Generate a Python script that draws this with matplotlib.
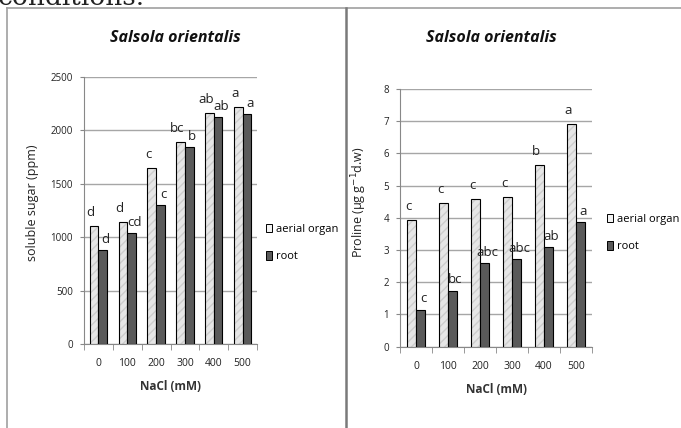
import matplotlib.pyplot as plt
import numpy as np
from matplotlib.lines import Line2D
from matplotlib.patches import Patch

# data
nacl = ["0", "100", "200", "300", "400", "500"]

sugar_aerial = [1105, 1140, 1648, 1894, 2160, 2216]
sugar_root = [880, 1040, 1301, 1841, 2122, 2153]
sugar_aerial_lbl = ["d", "d", "c", "bc", "ab", "a"]
sugar_root_lbl = ["d", "cd", "c", "b", "ab", "a"]

proline_aerial = [3.94, 4.45, 4.58, 4.66, 5.65, 6.91]
proline_root = [1.15, 1.74, 2.60, 2.72, 3.09, 3.86]
proline_aerial_lbl = ["c", "c", "c", "c", "b", "a"]
proline_root_lbl = ["c", "bc", "abc", "abc", "ab", "a"]

FONT = ["Liberation Sans Narrow", "Open Sans", "DejaVu Sans"]
plt.rcParams['font.family'] = FONT

AER_FACE = "#e6e6e6"
AER_HATCH = "#cdcdcd"
ROOT_FACE = "#5a5a5a"
GRID = "#a6a6a6"

fig = plt.figure(figsize=(6.81, 4.28), dpi=100)

# cut off text from the page above and the frame lines
fig.text(-0.004, 1 - 5 / 428, "conditions.", family="DejaVu Serif", fontsize=19,
         ha="left", va="baseline", color="#222222")
fig.add_artist(Line2D([7 / 681, 1], [1 - 8 / 428, 1 - 8 / 428], color="#a0a0a0", lw=1.2))
fig.add_artist(Line2D([7 / 681, 7 / 681], [0, 1 - 8 / 428], color="#a0a0a0", lw=1.2))
fig.add_artist(Line2D([346 / 681, 346 / 681], [0, 1 - 8 / 428], color="#7a7a7a", lw=1.8))


def draw_panel(rect, aerial, root, lbl_a, lbl_r, ymax, ystep, ylabel, ylabel_xy,
               legend_pos, title_xy, width, xlabel_y):
    ax = fig.add_axes(rect)
    x = np.arange(len(nacl))
    # aerial bars: light fill + light diagonal streaks, then black outline
    ax.bar(x - width / 2, aerial, width, color=AER_FACE, edgecolor=AER_HATCH,
           hatch="////", linewidth=0, zorder=3)
    ax.bar(x - width / 2, aerial, width, fill=False, edgecolor="black",
           linewidth=0.8, zorder=4)
    ax.bar(x + width / 2, root, width, color=ROOT_FACE, edgecolor="black",
           linewidth=0.8, zorder=4)

    for i in range(len(nacl)):
        ax.annotate(lbl_a[i], (x[i] - width / 2, aerial[i]), xytext=(-2.5, 5),
                    textcoords="offset points", ha="center", va="bottom",
                    fontsize=9.5, color="#222222", zorder=5)
        ax.annotate(lbl_r[i], (x[i] + width / 2, root[i]), xytext=(2, 3),
                    textcoords="offset points", ha="center", va="bottom",
                    fontsize=9.5, color="#222222", zorder=5)

    ax.set_xlim(-0.5, len(nacl) - 0.5)
    ax.set_ylim(0, ymax)
    ax.set_yticks(np.arange(0, ymax + ystep / 2, ystep))
    ax.yaxis.grid(True, color=GRID, lw=1)
    ax.set_axisbelow(True)
    ax.set_xticks(x)
    ax.set_xticklabels(nacl)
    ax.set_xticks(np.arange(-0.5, len(nacl)), minor=True)
    ax.tick_params(axis="x", which="major", length=0, pad=10, labelsize=7.5,
                   colors="#222222")
    ax.tick_params(axis="x", which="minor", length=4, direction="out",
                   color="#888888")
    ax.tick_params(axis="y", length=3, direction="out", color="#888888",
                   labelsize=7, labelcolor="#222222", pad=5)
    for s in ["top", "right"]:
        ax.spines[s].set_visible(False)
    for s in ["left", "bottom"]:
        ax.spines[s].set_color("#888888")

    ax.set_xlabel("NaCl (mM)", fontsize=8.5, fontweight="bold", color="#333333")
    ax.xaxis.set_label_coords(0.5, xlabel_y)
    ax.set_ylabel(ylabel, fontsize=9, color="#222222")
    ax.yaxis.set_label_coords(*ylabel_xy)

    fig.text(title_xy[0], title_xy[1], "Salsola orientalis", fontsize=11.5,
             fontstyle="italic", fontweight="bold", ha="center", va="center",
             family=["Open Sans", "DejaVu Sans"], color="#111111")

    handles = [Patch(facecolor="#f2f2f2", edgecolor="black", lw=0.7),
               Patch(facecolor=ROOT_FACE, edgecolor="black", lw=0.7)]
    fig.legend(handles, ["aerial organ", "root"], loc="upper left",
               bbox_to_anchor=legend_pos, frameon=False, fontsize=8,
               handlelength=0.6, handleheight=0.8, handletextpad=0.3,
               labelspacing=1.5, borderpad=0)
    return ax


draw_panel([84 / 681, 1 - 344 / 428, 173 / 681, 267 / 428],
           sugar_aerial, sugar_root, sugar_aerial_lbl, sugar_root_lbl,
           2500, 500, "soluble sugar (ppm)", (-0.26, 0.53),
           (260 / 681, 1 - 218 / 428), (175 / 681, 1 - 38 / 428), 0.3, -0.135)

draw_panel([400 / 681, 1 - 346.7 / 428, 192 / 681, 257.7 / 428],
           proline_aerial, proline_root, proline_aerial_lbl, proline_root_lbl,
           8, 1, "Proline (µg g$^{-1}$d.w)", (-0.16, 0.56),
           (601 / 681, 1 - 208 / 428), (491 / 681, 1 - 38 / 428), 0.28, -0.14)

fig.savefig("out.png", dpi=100)
